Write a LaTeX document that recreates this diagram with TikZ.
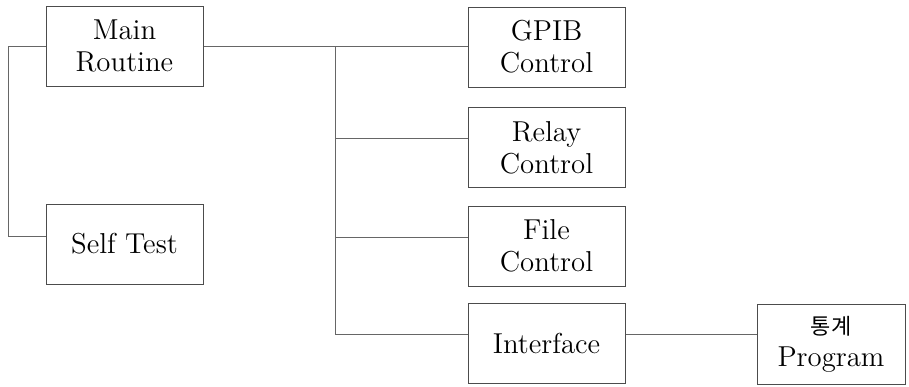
\documentclass[tikz,border=0pt]{standalone}
\usepackage{fontspec}
\newfontfamily\koreanfont{Noto Sans CJK KR}

\tikzset{
  module/.style={draw=black!70, line width=0.5pt, minimum width=78.5pt,
    minimum height=40pt, align=center, inner sep=2pt,
    font=\fontsize{14.4}{16}\selectfont},
  link/.style={draw=black!60, line width=0.5pt},
}

\begin{document}
\begin{tikzpicture}[x=0.5pt, y=-0.5pt]
        \useasboundingbox (0,0) rectangle (909,386);

        % Draw the modules
        \node[module] (main) at (124.5,46) {Main\\Routine};
        \node[module] (self) at (124.5,244) {Self Test};
        \foreach \name/\y/\txt in {gpib/47/{GPIB\\Control}, relay/147.5/{Relay\\Control},
                                   file/246/{File\\Control}, iface/343.5/{Interface}} {
            \node[module] (\name) at (546.5,\y) {\txt};
        }
        \node[module, minimum width=74pt] (prog) at (831,344)
            {{\koreanfont\fontsize{11}{16}\selectfont 통계}\\Program};

        % Connect them
        \coordinate (trunk) at (8,46);
        \coordinate (split) at (335,46);
        \draw[link] (main.west) -- (trunk) |- ([yshift=4pt]self.west);
        \draw[link] (main.east) -- (main.east -| gpib.west);
        \draw[link] (split) |- ([yshift=4.5pt]iface.west);
        \foreach \name in {relay, file} {
            \draw[link] ([yshift=4.5pt]split |- \name.west) -- ([yshift=4.5pt]\name.west);
        }
        \draw[link] ([yshift=4.5pt]iface.east) -- ([yshift=4.5pt]iface.east -| prog.west);
    \end{tikzpicture}
\end{document}
